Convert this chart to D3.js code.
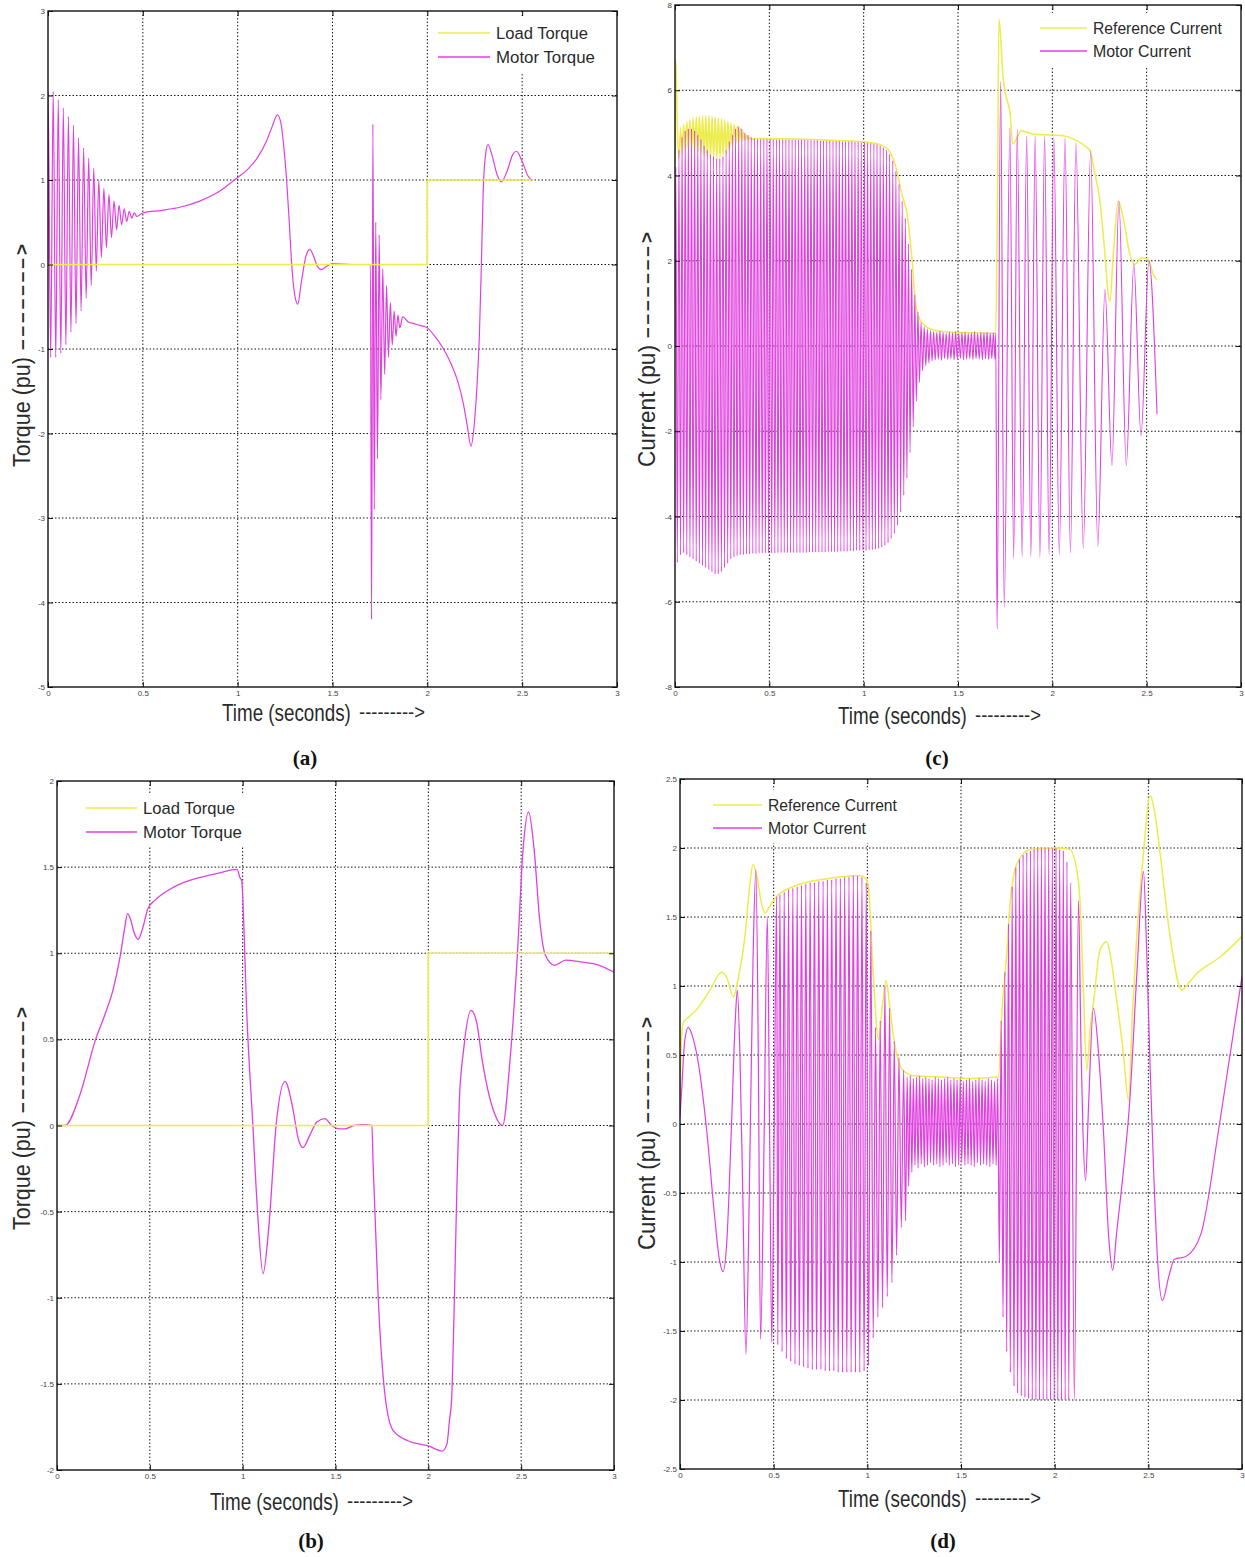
<!DOCTYPE html>
<html>
<head>
<meta charset="utf-8">
<script src="https://cdn.jsdelivr.net/npm/d3@7"></script>
<style>
  body { margin: 0; background: #fff; }
  svg { display: block; }
</style>
</head>
<body>
<svg id="fig" width="1245" height="1557"></svg>
<script>
// ---------------- shared axis values ----------------
const timeTicks = [0, 0.5, 1, 1.5, 2, 2.5, 3];
const timeTickLabels = ["0", "0.5", "1", "1.5", "2", "2.5", "3"];

// ---------------- (a) torque, first drive ----------------
const aTorqueTicks = [-5, -4, -3, -2, -1, 0, 1, 2, 3];
const aLoadT = [0, 2.0, 2.0, 2.55];
const aLoadV = [0, 0, 1, 1];
// start-up ringing: maximum and minimum of each cycle
const aStartPeaks   = [2.05, 2.05, 1.95, 1.85, 1.75, 1.65, 1.5, 1.38, 1.26, 1.14, 1.0, 0.9, 0.83, 0.75, 0.7, 0.66, 0.63, 0.61];
const aStartTroughs = [-1.1, -1.1, -1.05, -0.95, -0.8, -0.7, -0.55, -0.4, -0.25, -0.08, 0.08, 0.2, 0.32, 0.41, 0.47, 0.51, 0.55, 0.57];
const aMidT = [0.5, 0.6, 0.7, 0.8, 0.9, 1.0, 1.05, 1.1, 1.15, 1.18, 1.21, 1.23, 1.245, 1.258, 1.272, 1.285, 1.30, 1.317, 1.335, 1.36, 1.38, 1.40, 1.42, 1.44, 1.47, 1.5, 1.6, 1.69];
const aMidV = [0.61, 0.64, 0.68, 0.75, 0.86, 1.03, 1.12, 1.25, 1.45, 1.62, 1.77, 1.65, 1.35, 1.0, 0.5, 0.0, -0.35, -0.47, -0.22, 0.1, 0.18, 0.1, -0.02, -0.06, -0.02, 0.01, 0.0, 0.0];
const aSpikeT = [1.700, 1.706, 1.713, 1.720, 1.728, 1.737, 1.746, 1.755, 1.765, 1.775, 1.785, 1.795, 1.805, 1.815, 1.825, 1.835, 1.845, 1.855, 1.87, 1.9, 1.93, 1.96, 2.0];
const aSpikeV = [0.0, -4.2, 1.66, -2.9, 0.5, -2.3, 0.35, -1.6, -0.05, -1.3, -0.25, -1.1, -0.45, -0.95, -0.55, -0.85, -0.6, -0.75, -0.62, -0.68, -0.7, -0.72, -0.75];
const aTailT = [2.04, 2.08, 2.12, 2.16, 2.19, 2.21, 2.23, 2.245, 2.26, 2.275, 2.285, 2.295, 2.31, 2.32, 2.34, 2.37, 2.39, 2.42, 2.45, 2.47, 2.5, 2.53, 2.55];
const aTailV = [-0.85, -0.98, -1.15, -1.38, -1.65, -1.9, -2.15, -1.95, -1.5, -0.8, 0.0, 0.9, 1.35, 1.42, 1.3, 1.05, 0.98, 1.1, 1.3, 1.34, 1.22, 1.05, 1.0];

// ---------------- (c) current, first drive ----------------
const cCurrentTicks = [-8, -6, -4, -2, 0, 2, 4, 6, 8];
const cRefStartT = [0, 0.004, 0.012, 0.02];
const cRefStartV = [4.3, 6.7, 5.2, 4.4];
const cRipplePeaks   = [5.12, 5.2, 5.26, 5.31, 5.35, 5.37, 5.39, 5.4, 5.4, 5.4, 5.39, 5.37, 5.35, 5.33, 5.3, 5.27, 5.24, 5.2, 5.16, 5.1, 5.02, 4.95, 4.9];
const cRippleTroughs = [4.5, 4.6, 4.62, 4.6, 4.58, 4.55, 4.5, 4.47, 4.44, 4.42, 4.4, 4.4, 4.42, 4.46, 4.52, 4.6, 4.68, 4.74, 4.78, 4.81, 4.83, 4.84, 4.85];
const cRefMidT = [0.42, 0.6, 0.8, 1.0, 1.1, 1.14, 1.16, 1.18, 1.2, 1.23, 1.257, 1.274, 1.29, 1.32, 1.354, 1.45, 1.6, 1.695];
const cRefMidV = [4.87, 4.86, 4.83, 4.79, 4.7, 4.55, 4.35, 4.03, 3.6, 3.1, 2.0, 1.05, 0.7, 0.5, 0.4, 0.33, 0.31, 0.3];
const cRefEndT = [1.700, 1.710, 1.717, 1.74, 1.761, 1.775, 1.79, 1.837, 1.9, 2.0, 2.058, 2.128, 2.18, 2.2, 2.226, 2.252, 2.279, 2.296, 2.305, 2.323, 2.35, 2.376, 2.411, 2.438, 2.473, 2.508, 2.535, 2.553];
const cRefEndV = [0.3, 4.0, 7.67, 6.26, 5.75, 5.5, 4.74, 5.05, 4.97, 4.95, 4.93, 4.82, 4.67, 4.58, 4.04, 3.4, 2.15, 1.21, 1.05, 2.15, 3.4, 3.0, 2.15, 1.92, 2.07, 2.03, 1.68, 1.56];
// motor phase current, cycle maxima / minima from 0 s to 1.70 s
const cMotorPeaks = [
  4.2, 4.6, 4.9, 5.05, 5.1, 5.1, 5.05, 4.95, 4.85, 4.7,
  4.6, 4.5, 4.45, 4.4, 4.4, 4.45, 4.6, 4.8, 4.95, 5.1,
  5.15, 5.1, 5.0, 4.95, 4.9, 4.87, 4.86, 4.86, 4.86, 4.86,
  4.86, 4.85, 4.85, 4.85, 4.85, 4.85, 4.85, 4.84, 4.84, 4.84,
  4.84, 4.84, 4.83, 4.83, 4.83, 4.83, 4.82, 4.82, 4.82, 4.82,
  4.81, 4.81, 4.81, 4.8, 4.8, 4.8, 4.8, 4.79, 4.79, 4.78,
  4.78, 4.77, 4.76, 4.75, 4.73, 4.7, 4.66, 4.6, 4.5, 4.35,
  4.1, 3.8, 3.4, 3.0, 2.4, 1.8, 1.2, 0.8, 0.55, 0.45,
  0.4, 0.36, 0.34, 0.33, 0.35, 0.32, 0.3, 0.33, 0.31, 0.34,
  0.3, 0.32, 0.33, 0.3, 0.31, 0.34, 0.3, 0.32, 0.31, 0.33, 0.3, 0.31];
const cMotorTroughs = [
  -5.08, -4.9, -4.85, -4.9, -4.95, -5.0, -5.05, -5.1, -5.15, -5.2,
  -5.25, -5.3, -5.35, -5.35, -5.3, -5.2, -5.1, -5.0, -4.95, -4.92,
  -4.9, -4.9, -4.88, -4.88, -4.87, -4.87, -4.86, -4.86, -4.86, -4.86,
  -4.86, -4.86, -4.85, -4.85, -4.85, -4.85, -4.85, -4.85, -4.85, -4.85,
  -4.85, -4.85, -4.84, -4.84, -4.84, -4.84, -4.84, -4.84, -4.83, -4.83,
  -4.83, -4.83, -4.82, -4.82, -4.82, -4.81, -4.81, -4.8, -4.8, -4.8,
  -4.8, -4.79, -4.78, -4.77, -4.75, -4.72, -4.68, -4.62, -4.52, -4.4,
  -4.2, -3.9, -3.5, -3.1, -2.5, -1.9, -1.3, -0.85, -0.58, -0.46,
  -0.4, -0.35, -0.33, -0.31, -0.34, -0.3, -0.32, -0.3, -0.33, -0.31,
  -0.3, -0.33, -0.31, -0.3, -0.32, -0.3, -0.31, -0.33, -0.3, -0.32, -0.3, -0.31];
const cMotorEndT = [1.700, 1.707, 1.726, 1.745, 1.775, 1.795, 1.814, 1.840, 1.864, 1.886, 1.909, 1.934, 1.959, 1.983, 2.008, 2.037, 2.067, 2.096, 2.125, 2.164, 2.203, 2.241, 2.279, 2.316, 2.353, 2.392, 2.432, 2.470, 2.512, 2.555];
const cMotorEndV = [0.3, -6.64, 6.22, -6.13, 5.12, -5.0, 5.08, -4.95, 4.93, -4.95, 4.93, -4.95, 4.93, -4.9, 4.9, -4.9, 4.88, -4.85, 4.77, -4.75, 4.58, -4.7, 1.33, -2.8, 3.4, -2.8, 1.92, -2.1, 2.0, -1.6];

// ---------------- (b) torque, second drive ----------------
const bTorqueTicks = [-2, -1.5, -1, -0.5, 0, 0.5, 1, 1.5, 2];
const bLoadT = [0, 2.0, 2.0, 3.0];
const bLoadV = [0, 0, 1, 1];
const bMotorT = [0, 0.043, 0.124, 0.205, 0.26, 0.30, 0.34, 0.365, 0.38, 0.395, 0.415, 0.437, 0.46, 0.49, 0.53, 0.59, 0.68, 0.77, 0.87, 0.97, 0.985, 0.995, 1.005, 1.02, 1.055, 1.08, 1.11, 1.14, 1.18, 1.228, 1.27, 1.30, 1.325, 1.36, 1.40, 1.443, 1.48, 1.52, 1.55, 1.6, 1.65, 1.696, 1.703, 1.73, 1.766, 1.81, 1.89, 2.0, 2.075, 2.10, 2.115, 2.125, 2.14, 2.153, 2.167, 2.19, 2.23, 2.26, 2.29, 2.35, 2.40, 2.44, 2.48, 2.51, 2.54, 2.57, 2.60, 2.63, 2.68, 2.74, 2.82, 2.92, 3.0];
const bMotorV = [0, 0.0, 0.18, 0.49, 0.65, 0.78, 0.98, 1.15, 1.23, 1.2, 1.12, 1.08, 1.14, 1.26, 1.31, 1.36, 1.41, 1.44, 1.465, 1.487, 1.44, 1.42, 1.2, 0.71, 0.0, -0.5, -0.86, -0.6, 0.0, 0.256, 0.1, -0.08, -0.128, -0.06, 0.02, 0.04, 0.0, -0.02, -0.02, 0.0, 0.005, 0.0, -0.24, -1.0, -1.56, -1.77, -1.83, -1.86, -1.89, -1.85, -1.7, -1.6, -1.02, -0.4, 0.145, 0.44, 0.668, 0.6, 0.38, 0.09, 0.0, 0.38, 1.0, 1.6, 1.82, 1.6, 1.19, 0.99, 0.93, 0.96, 0.95, 0.93, 0.89];

// ---------------- (d) current, second drive ----------------
const dCurrentTicks = [-2.5, -2, -1.5, -1, -0.5, 0, 0.5, 1, 1.5, 2, 2.5];
const dRefT = [0, 0.008, 0.016, 0.05, 0.089, 0.16, 0.223, 0.25, 0.285, 0.31, 0.347, 0.37, 0.39, 0.41, 0.435, 0.454, 0.48, 0.516, 0.623, 0.80, 0.961, 0.99, 1.005, 1.03, 1.06, 1.08, 1.10, 1.12, 1.14, 1.19, 1.25, 1.4, 1.55, 1.70, 1.717, 1.744, 1.762, 1.80, 1.87, 2.0, 2.08, 2.118, 2.136, 2.153, 2.171, 2.19, 2.207, 2.242, 2.278, 2.30, 2.322, 2.367, 2.394, 2.415, 2.438, 2.474, 2.51, 2.535, 2.563, 2.616, 2.679, 2.72, 2.759, 2.883, 3.0];
const dRefV = [0.2, 0.62, 0.73, 0.78, 0.83, 0.97, 1.10, 1.06, 0.92, 1.05, 1.36, 1.7, 1.88, 1.8, 1.6, 1.53, 1.58, 1.65, 1.73, 1.78, 1.80, 1.78, 1.73, 1.12, 0.61, 0.85, 1.04, 0.85, 0.63, 0.39, 0.35, 0.34, 0.33, 0.34, 0.78, 1.24, 1.6, 1.89, 1.99, 2.0, 1.99, 1.84, 1.6, 0.99, 0.39, 0.7, 0.88, 1.26, 1.32, 1.2, 0.99, 0.51, 0.17, 0.8, 1.36, 1.96, 2.38, 2.25, 1.96, 1.36, 0.97, 1.03, 1.09, 1.21, 1.36];
const dStartT = [0, 0.009, 0.025, 0.044, 0.07, 0.098, 0.142, 0.18, 0.21, 0.23, 0.25, 0.275, 0.295, 0.306, 0.32, 0.335, 0.352, 0.37, 0.39, 0.405, 0.418, 0.43, 0.45, 0.466, 0.478, 0.49, 0.503, 0.516];
const dStartV = [0.05, 0.25, 0.6, 0.7, 0.62, 0.44, -0.04, -0.6, -0.98, -1.07, -0.85, 0.0, 0.75, 0.97, 0.5, -0.5, -1.67, -0.5, 1.2, 1.84, 0.5, -1.56, 0.0, 1.5, 0.0, -1.58, 0.0, 1.65];
// cycle minima / maxima of the fast bursts
const dTroughs1 = [-1.6, -1.65, -1.7, -1.72, -1.74, -1.75, -1.76, -1.77, -1.78, -1.78, -1.78, -1.79, -1.79, -1.79, -1.8, -1.8, -1.8, -1.8, -1.8, -1.8, -1.79];
const dPeaks1   = [1.66, 1.68, 1.7, 1.71, 1.72, 1.73, 1.74, 1.75, 1.75, 1.76, 1.76, 1.77, 1.77, 1.78, 1.78, 1.79, 1.79, 1.8, 1.8, 1.79, 1.75];
const dTroughs2 = [-1.75, -1.55, -1.4, -1.33, -1.25, -1.15, -0.95, -0.75];
const dPeaks2   = [1.4, 0.7, 0.75, 1.0, 0.84, 0.6, 0.48, 0.39];
const dTroughs3 = [-0.7, -0.45, -0.35, -0.3, -0.32, -0.29, -0.31, -0.3, -0.28, -0.3, -0.29, -0.31, -0.3, -0.28, -0.3, -0.29, -0.31, -0.3, -0.28, -0.3, -0.29, -0.3, -0.31, -0.28, -0.3, -0.29, -0.3, -0.31, -0.29, -0.3];
const dPeaks3   = [0.34, 0.35, 0.33, 0.34, 0.35, 0.33, 0.34, 0.33, 0.32, 0.34, 0.33, 0.32, 0.33, 0.34, 0.32, 0.33, 0.32, 0.33, 0.31, 0.32, 0.33, 0.31, 0.32, 0.33, 0.32, 0.31, 0.33, 0.32, 0.31, 0.33];
const dTroughs4 = [-1.0, -1.4, -1.65, -1.8, -1.9, -1.95, -1.97, -1.98, -1.99, -2.0, -2.0, -2.0, -2.0, -2.0, -2.0, -2.0, -2.0, -2.0, -2.0, -2.0];
const dPeaks4   = [0.75, 1.1, 1.45, 1.72, 1.86, 1.92, 1.95, 1.97, 1.98, 1.99, 2.0, 2.0, 2.0, 2.0, 2.0, 2.0, 1.99, 1.98, 1.9, 1.75];
const dTailT = [2.105, 2.127, 2.14, 2.15, 2.165, 2.18, 2.207, 2.235, 2.26, 2.29, 2.31, 2.33, 2.37, 2.40, 2.44, 2.474, 2.49, 2.51, 2.53, 2.55, 2.575, 2.61, 2.64, 2.7, 2.78, 2.88, 3.0];
const dTailV = [-2.0, 1.62, 0.6, 0.0, -0.41, 0.1, 0.84, 0.5, -0.04, -0.85, -1.06, -0.8, -0.3, 0.15, 1.12, 1.83, 1.3, 0.39, -0.4, -1.0, -1.28, -1.1, -0.98, -0.96, -0.8, 0.0, 1.07];

// ---------------- helpers ----------------
// pair a time list with a value list
function pairs(ts, vs) { return ts.map((t, i) => [t, vs[i]]); }
// lay cycle extremes out one after another over [t0, t1]
function alternate(t0, t1, first, second) {
  const n = first.length, step = (t1 - t0) / (2 * n), pts = [];
  for (let i = 0; i < n; i++) {
    pts.push([t0 + (2 * i + 0.5) * step, first[i]]);
    pts.push([t0 + (2 * i + 1.5) * step, second[i]]);
  }
  return pts;
}

const FONT = "'Liberation Sans', Arial, Helvetica, sans-serif";
const MAGENTA = "#e040e0";
const YELLOW = "#ecec4a";
const svg = d3.select("#fig");

// text squeezed horizontally to a given width (condensed look, honest bounding box)
function fittedText(parent, str, size, width, placement, extra) {
  const t = parent.append("text").attr("font-family", FONT).attr("font-size", size)
    .attr("fill", "#2a2a2a").text(str);
  if (extra) extra(t);
  const natural = t.node().getComputedTextLength();
  const k = width / natural;
  t.attr("transform", `${placement} scale(${k},1)`);
  return t;
}

function drawPanel(p) {
  const x = d3.scaleLinear().domain([0, 3]).range([p.left, p.right]);
  const y = d3.scaleLinear().domain([p.yTicks[0], p.yTicks[p.yTicks.length - 1]]).range([p.bottom, p.top]);
  const g = svg.append("g");
  const clipId = "clip-" + p.id;
  g.append("clipPath").attr("id", clipId).append("rect")
    .attr("x", p.left).attr("y", p.top)
    .attr("width", p.right - p.left).attr("height", p.bottom - p.top);

  // dotted grid
  const grid = g.append("g").attr("stroke", "#1a1a1a").attr("stroke-width", 1)
    .attr("stroke-dasharray", "1.5,2");
  grid.selectAll("line.gv").data(timeTicks.slice(1, -1)).join("line").attr("class", "gv")
    .attr("x1", d => x(d)).attr("x2", d => x(d)).attr("y1", p.top).attr("y2", p.bottom);
  grid.selectAll("line.gh").data(p.yTicks.slice(1, -1)).join("line").attr("class", "gh")
    .attr("y1", d => y(d)).attr("y2", d => y(d)).attr("x1", p.left).attr("x2", p.right);

  // series
  const sg = g.append("g").attr("clip-path", `url(#${clipId})`);
  p.series.forEach(s => {
    const line = d3.line().x(d => x(d[0])).y(d => y(d[1]))
      .curve(s.step ? d3.curveLinear : d3.curveMonotoneX);
    sg.append("path").datum(s.points)
      .attr("fill", "none").attr("stroke", s.color).attr("stroke-width", s.width)
      .attr("stroke-linejoin", "round").attr("d", line);
  });

  // frame
  g.append("rect").attr("x", p.left).attr("y", p.top)
    .attr("width", p.right - p.left).attr("height", p.bottom - p.top)
    .attr("fill", "none").attr("stroke", "#111").attr("stroke-width", 1.4);

  // inward ticks on all four sides, labels on bottom and left
  const styleAxis = sel => {
    sel.select(".domain").remove();
    sel.selectAll(".tick line").attr("stroke", "#111");
    sel.selectAll("text").attr("font-family", FONT).attr("font-size", 8).attr("fill", "#444");
  };
  g.append("g").attr("transform", `translate(0,${p.bottom})`)
    .call(d3.axisBottom(x).tickValues(timeTicks).tickSize(-5).tickPadding(3)
      .tickFormat((d, i) => timeTickLabels[i])).call(styleAxis);
  g.append("g").attr("transform", `translate(0,${p.top})`)
    .call(d3.axisTop(x).tickValues(timeTicks).tickSize(-5).tickFormat("")).call(styleAxis);
  g.append("g").attr("transform", `translate(${p.left},0)`)
    .call(d3.axisLeft(y).tickValues(p.yTicks).tickSize(-5).tickPadding(3)
      .tickFormat(d => String(d))).call(styleAxis);
  g.append("g").attr("transform", `translate(${p.right},0)`)
    .call(d3.axisRight(y).tickValues(p.yTicks).tickSize(-5).tickFormat("")).call(styleAxis);

  // legend
  const lg = g.append("g");
  lg.append("rect").attr("x", p.legend.x - 8).attr("y", p.legend.y - 15)
    .attr("width", p.legend.w).attr("height", p.legend.dy + 30).attr("fill", "#fff");
  p.legend.items.forEach((it, i) => {
    const yy = p.legend.y + i * p.legend.dy;
    lg.append("line").attr("x1", p.legend.x).attr("x2", p.legend.x + p.legend.len)
      .attr("y1", yy).attr("y2", yy).attr("stroke", it.color).attr("stroke-width", 1.6);
    fittedText(lg, it.label, 17, it.w, `translate(${p.legend.x + p.legend.len + 6},${yy + 6})`);
  });

  // x title with arrow
  fittedText(svg, "Time (seconds)", 24, 129, `translate(${p.xt.x},${p.xt.y})`);
  fittedText(svg, "--------->", 20, 66, `translate(${p.xt.x + 137},${p.xt.y - 2})`);

  // y title with arrow (reads upward)
  fittedText(svg, p.yt.label, 24, p.yt.len, `translate(${p.yt.x},${p.yt.y}) rotate(-90)`);
  svg.append("text").attr("transform", `translate(${p.yt.x - 2},${p.yt.y - p.yt.len - 7}) rotate(-90)`)
    .attr("font-family", FONT).attr("font-size", 19).attr("font-weight", "bold").attr("fill", "#2a2a2a")
    .attr("textLength", 106).attr("lengthAdjust", "spacing").text("\u2013\u2013\u2013\u2013\u2013\u2013\u2013>");

  // panel caption
  svg.append("text").attr("x", p.cap.x).attr("y", p.cap.y).attr("text-anchor", "middle")
    .attr("font-family", "'Liberation Serif', 'Times New Roman', serif")
    .attr("font-weight", "bold").attr("font-size", 21).attr("fill", "#111").text(p.cap.text);
}

const torqueLegend = (color1, color2) => [
  { label: "Load Torque", color: color1, w: 92 },
  { label: "Motor Torque", color: color2, w: 99 }];
const currentLegend = (color1, color2) => [
  { label: "Reference Current", color: color1, w: 129 },
  { label: "Motor Current", color: color2, w: 98 }];

// (a)
drawPanel({
  id: "a", left: 48, right: 617, top: 11, bottom: 687, yTicks: aTorqueTicks,
  series: [
    { color: MAGENTA, width: 1.2, points: [[0, 0]].concat(
        alternate(-0.006, 0.475, aStartPeaks, aStartTroughs),
        pairs(aMidT, aMidV), pairs(aSpikeT, aSpikeV), pairs(aTailT, aTailV)) },
    { color: YELLOW, width: 1.6, step: true, points: pairs(aLoadT, aLoadV) }
  ],
  legend: { x: 438, y: 33, dy: 24, len: 52, w: 170, items: torqueLegend(YELLOW, MAGENTA) },
  xt: { x: 222, y: 721 },
  yt: { x: 30, y: 467, len: 110, label: "Torque (pu)" },
  cap: { x: 305, y: 765, text: "(a)" }
});

// (c)
drawPanel({
  id: "c", left: 675, right: 1241, top: 5, bottom: 687, yTicks: cCurrentTicks,
  series: [
    { color: YELLOW, width: 1.5, points: pairs(cRefStartT, cRefStartV).concat(
        alternate(0.025, 0.41, cRipplePeaks, cRippleTroughs),
        pairs(cRefMidT, cRefMidV), pairs(cRefEndT, cRefEndV)) },
    { color: MAGENTA, width: 1.1, points: [[0, 0]].concat(
        alternate(0, 1.70, cMotorPeaks, cMotorTroughs), pairs(cMotorEndT, cMotorEndV)) }
  ],
  legend: { x: 1040, y: 28, dy: 23, len: 47, w: 192, items: currentLegend(YELLOW, MAGENTA) },
  xt: { x: 838, y: 724 },
  yt: { x: 655, y: 467, len: 122, label: "Current (pu)" },
  cap: { x: 937, y: 765, text: "(c)" }
});

// (b)
drawPanel({
  id: "b", left: 57, right: 614, top: 781, bottom: 1470, yTicks: bTorqueTicks,
  series: [
    { color: MAGENTA, width: 1.3, points: pairs(bMotorT, bMotorV) },
    { color: YELLOW, width: 1.6, step: true, points: pairs(bLoadT, bLoadV) }
  ],
  legend: { x: 86, y: 808, dy: 24, len: 51, w: 168, items: torqueLegend(YELLOW, MAGENTA) },
  xt: { x: 210, y: 1510 },
  yt: { x: 30, y: 1230, len: 110, label: "Torque (pu)" },
  cap: { x: 311, y: 1548, text: "(b)" }
});

// (d)
drawPanel({
  id: "d", left: 680, right: 1242, top: 779, bottom: 1469, yTicks: dCurrentTicks,
  series: [
    { color: YELLOW, width: 1.5, points: pairs(dRefT, dRefV) },
    { color: MAGENTA, width: 1.2, points: pairs(dStartT, dStartV).concat(
        alternate(0.516, 1.0, dTroughs1, dPeaks1),
        alternate(1.0, 1.2, dTroughs2, dPeaks2),
        alternate(1.2, 1.7, dTroughs3, dPeaks3),
        alternate(1.7, 2.09, dTroughs4, dPeaks4),
        pairs(dTailT, dTailV)) }
  ],
  legend: { x: 713, y: 805, dy: 23, len: 49, w: 192, items: currentLegend(YELLOW, MAGENTA) },
  xt: { x: 838, y: 1507 },
  yt: { x: 655, y: 1250, len: 120, label: "Current (pu)" },
  cap: { x: 943, y: 1548, text: "(d)" }
});
</script>
</body>
</html>
